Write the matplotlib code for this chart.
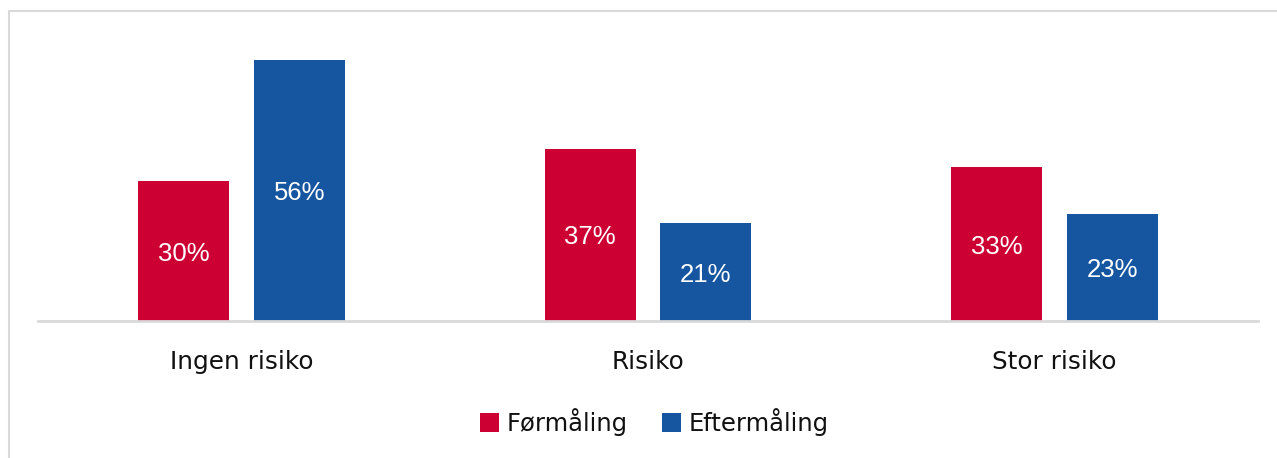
import matplotlib
matplotlib.use("Agg")
import matplotlib.pyplot as plt
from matplotlib.patches import Rectangle
import numpy as np

categories = ["Ingen risiko", "Risiko", "Stor risiko"]
series_names = ["Førmåling", "Eftermåling"]
formaling = [30, 37, 33]
eftermaling = [56, 21, 23]

RED = "#CC0033"
BLUE = "#1656A0"
GRID = "#D9D9D9"

W, H = 1277, 458
fig = plt.figure(figsize=(W / 100, H / 100), dpi=100)
fig.patch.set_facecolor("white")

# outer frame of the chart area (open to the right and bottom)
fig.patches.append(Rectangle((9 / W, -0.1), 1.2, (H - 11) / H + 0.1,
                             transform=fig.transFigure, fill=False,
                             edgecolor=GRID, linewidth=1.5, zorder=0))

ax_left, ax_right = 38 / W, 1258 / W
ax_bottom = (H - 321) / H
ax_top = (H - 11) / H
ax = fig.add_axes([ax_left, ax_bottom, ax_right - ax_left, ax_top - ax_bottom])

x = np.arange(len(categories))
width = 0.224
offset = (width + 0.061) / 2

b1 = ax.bar(x - offset, formaling, width, color=RED, label=series_names[0], zorder=2)
b2 = ax.bar(x + offset, eftermaling, width, color=BLUE, label=series_names[1], zorder=2)

for bars, vals in ((b1, formaling), (b2, eftermaling)):
    for bar, v in zip(bars, vals):
        ax.text(bar.get_x() + bar.get_width() / 2, v / 2, f"{v}%",
                ha="center", va="center_baseline", color="white",
                fontsize=18.5, family="Liberation Sans", zorder=3)

ax.set_xlim(-0.5, len(categories) - 0.5)
ax.set_ylim(0, 66.5)
ax.set_yticks([])
ax.set_xticks(x)
ax.set_xticklabels(categories, fontsize=17.8, family="DejaVu Sans", color="#111111")
ax.tick_params(axis="x", length=0, pad=21)
for side in ("top", "right", "left"):
    ax.spines[side].set_visible(False)
ax.spines["bottom"].set_color(GRID)
ax.spines["bottom"].set_linewidth(2)
ax.set_facecolor("none")

leg = fig.legend(handles=[b1, b2], labels=series_names, loc="center",
                 bbox_to_anchor=(654 / W, (H - 422) / H), ncol=2, frameon=False,
                 prop={"family": "DejaVu Sans", "size": 17.5},
                 handlelength=0.8, handleheight=0.8, handletextpad=0.3,
                 columnspacing=1.4)
for t in leg.get_texts():
    t.set_color("#111111")

fig.savefig("out.png", dpi=100, facecolor="white")
